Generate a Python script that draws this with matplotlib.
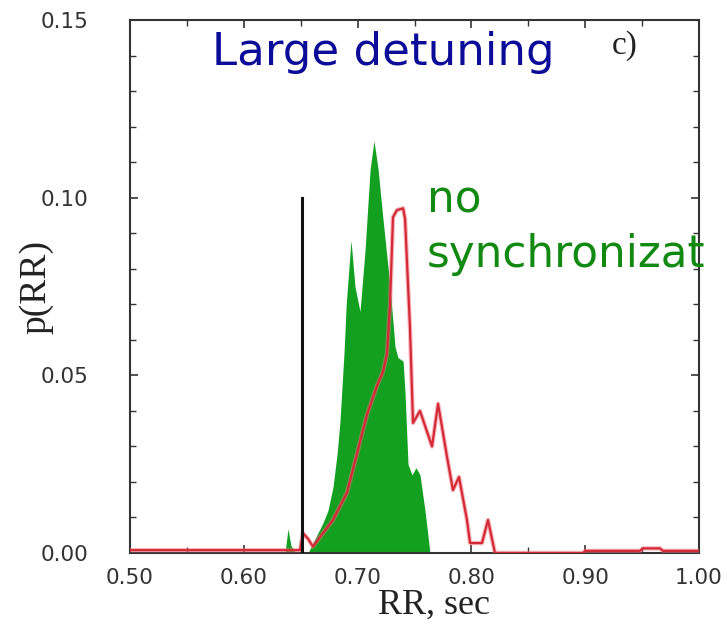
import matplotlib
matplotlib.use("Agg")
import matplotlib.pyplot as plt
from matplotlib.ticker import MultipleLocator, FormatStrFormatter

# Green histogram (large detuning)
green_x = [0.6362, 0.6388, 0.6415, 0.6459, 0.6564, 0.6626, 0.6696, 0.6740, 0.6784,
           0.6820, 0.6845, 0.6880, 0.6900, 0.6942, 0.6977, 0.7021, 0.7065, 0.7110,
           0.7144, 0.7180, 0.7223, 0.7285, 0.7329, 0.7355, 0.7400, 0.7417, 0.7443,
           0.7478, 0.7513, 0.7548, 0.7592, 0.7636]
green_y = [0.0, 0.0068, 0.002, 0.0, 0.0, 0.004, 0.0085, 0.012, 0.0186,
           0.028, 0.037, 0.056, 0.070, 0.088, 0.075, 0.068, 0.085, 0.108,
           0.116, 0.108, 0.094, 0.075, 0.058, 0.055, 0.054, 0.045, 0.025,
           0.022, 0.024, 0.022, 0.012, 0.0]

# Red histogram (no synchronization)
red_x = [0.500, 0.6494, 0.6520, 0.6564, 0.6608, 0.6670, 0.6784, 0.6907, 0.6995,
         0.7083, 0.7170, 0.7223, 0.7258, 0.7285, 0.7311, 0.7346, 0.7400, 0.7417,
         0.7460, 0.7487, 0.7548, 0.7654, 0.7707, 0.7786, 0.7838, 0.7891, 0.7961,
         0.7988, 0.8093, 0.8146, 0.8207, 0.8980, 0.9000, 0.9480, 0.9508, 0.9657,
         0.9683, 1.000]
red_y = [0.0008, 0.0008, 0.0056, 0.004, 0.0018, 0.0045, 0.0093, 0.017, 0.028,
         0.039, 0.047, 0.051, 0.056, 0.070, 0.0945, 0.0965, 0.097, 0.094,
         0.0636, 0.0366, 0.040, 0.030, 0.042, 0.027, 0.0177, 0.0214, 0.0093,
         0.0028, 0.0028, 0.0093, 0.0, 0.0, 0.0006, 0.0006, 0.0013, 0.0013,
         0.0006, 0.0006]

marker_x = [0.651, 0.651]
marker_y = [0.0, 0.10]

x_ticks = [0.50, 0.60, 0.70, 0.80, 0.90, 1.00]
y_ticks = [0.00, 0.05, 0.10, 0.15]

fig = plt.figure(figsize=(7.27, 6.25), dpi=100)
ax = fig.add_axes([130/727, 1 - 553/625, 569/727, 533/625])

ax.fill_between(green_x, green_y, 0, color='#13a020', linewidth=0, zorder=2)
ax.plot(red_x, red_y, color='#f07080', linewidth=3.2, alpha=0.5, zorder=3)
ax.plot(red_x, red_y, color='#d42a35', linewidth=1.6, zorder=4)
ax.plot(marker_x, marker_y, color='#111111', linewidth=2.2, zorder=5)

ax.set_xlim(0.5, 1.0)
ax.set_ylim(0.0, 0.15)
ax.set_xticks(x_ticks)
ax.set_yticks(y_ticks)
ax.xaxis.set_major_formatter(FormatStrFormatter('%.2f'))
ax.yaxis.set_major_formatter(FormatStrFormatter('%.2f'))
ax.xaxis.set_minor_locator(MultipleLocator(0.05))
ax.yaxis.set_minor_locator(MultipleLocator(0.01))
ax.tick_params(which='both', direction='in', top=True, right=True, color='#333333')
ax.tick_params(which='major', length=6, width=1.2)
ax.tick_params(which='minor', length=4, width=1.0)
ax.tick_params(axis='both', labelsize=15.5, labelcolor='#333333')
ax.tick_params(axis='x', pad=11)
ax.tick_params(axis='y', pad=30)
for lab in ax.get_xticklabels() + ax.get_yticklabels():
    lab.set_fontfamily('DejaVu Sans')
for s in ax.spines.values():
    s.set_linewidth(1.5)
    s.set_color('#333333')

ax.set_xlabel('RR, sec', fontsize=26, family='Liberation Serif', color='#222222', labelpad=0)
ax.xaxis.label.set_x((434 - 130) / 569)
ax.set_ylabel('p(RR)', fontsize=27, family='Liberation Serif', color='#222222', labelpad=-9)

fig.text(212/727, 1 - 52/625, 'Large detuning', fontsize=32.5, color='#0c0c99',
         family='DejaVu Sans', va='center', ha='left')
fig.text(612/727, 1 - 46/625, 'c)', fontsize=24, color='#222222',
         family='Liberation Serif', va='center', ha='left')
fig.text(427/727, 1 - 200/625, 'no', fontsize=31.5, color='#128a12',
         family='DejaVu Sans', va='center', ha='left')
fig.text(427/727, 1 - 255/625, 'synchronizat', fontsize=31.5, color='#128a12',
         family='DejaVu Sans', va='center', ha='left')

fig.savefig('out.png', dpi=100)
